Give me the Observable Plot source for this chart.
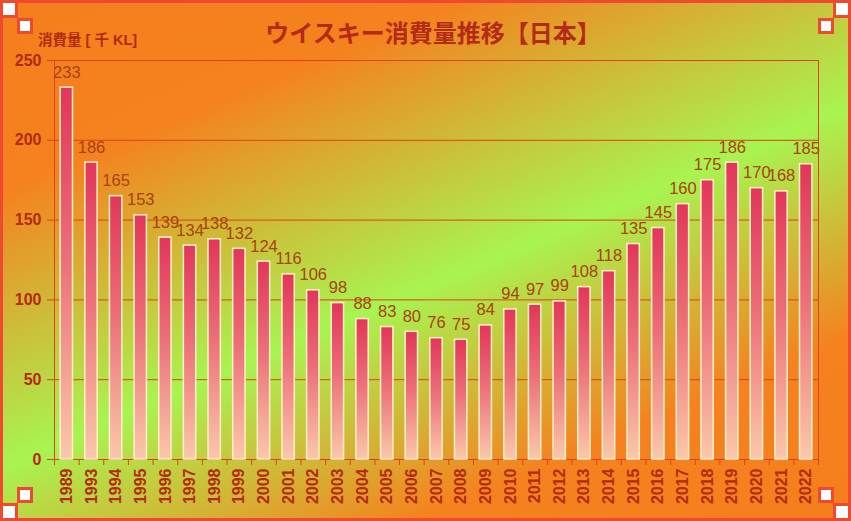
<!DOCTYPE html>
<html>
<head>
<meta charset="utf-8">
<script src="https://cdn.jsdelivr.net/npm/d3@7"></script>
<script src="https://cdn.jsdelivr.net/npm/@observablehq/plot@0.6"></script>
<style>
  html, body { margin: 0; padding: 0; }
  #page {
    position: relative; width: 851px; height: 521px; overflow: hidden;
    background: linear-gradient(157deg, #f57e1c 0%, #f5821e 22%, #a8f450 53%, #f5821e 79%, #f57e1c 100%);
    font-family: "Liberation Sans", Arial, sans-serif;
  }
  #chart { position: absolute; left: 0; top: 0; }
  #border { position: absolute; left: 0; top: 0; width: 851px; height: 521px; box-sizing: border-box; border: 3px solid #ef4a30; }
  #title {
    position: absolute; left: 433px; top: 20px; transform: translateX(-50%); white-space: nowrap;
    font: bold 24px/24px "Noto Sans CJK JP", sans-serif; color: #b42a16;
  }
  #ylabel {
    position: absolute; left: 38px; top: 33px; white-space: nowrap;
    font: bold 14.5px/14px "Liberation Sans", "Noto Sans CJK JP", sans-serif; color: #b02c10;
  }
  .sq { position: absolute; background: #fff; border: 3px solid #ef4a30; box-sizing: border-box; }
</style>
</head>
<body>
<div id="page">
  <div id="chart"></div>
  <div id="title">ウイスキー消費量推移【日本】</div>
  <div id="ylabel">消費量 [ 千 KL]</div>
  <div id="border"></div>
  <div class="sq" style="left:0;top:0;width:18px;height:18px"></div>
  <div class="sq" style="left:17px;top:18px;width:16px;height:16px"></div>
  <div class="sq" style="right:0;top:0;width:18px;height:18px"></div>
  <div class="sq" style="right:17px;top:18px;width:16px;height:16px"></div>
  <div class="sq" style="left:0;bottom:0;width:18px;height:18px"></div>
  <div class="sq" style="left:17px;bottom:18px;width:16px;height:16px"></div>
  <div class="sq" style="right:0;bottom:0;width:18px;height:18px"></div>
  <div class="sq" style="right:17px;bottom:18px;width:16px;height:16px"></div>
</div>
<script>
const years = ["1989","1993","1994","1995","1996","1997","1998","1999","2000","2001","2002","2003","2004","2005","2006","2007","2008","2009","2010","2011","2012","2013","2014","2015","2016","2017","2018","2019","2020","2021","2022"];
const values = [233,186,165,153,139,134,138,132,124,116,106,98,88,83,80,76,75,84,94,97,99,108,118,135,145,160,175,186,170,168,185];
const yTicks = [0,50,100,150,200,250];

const data = years.map((year, i) => ({year, value: values[i]}));

const W = 851, H = 521, ML = 54, MR = 33, MT = 60, MB = 62;
const step = (W - ML - MR) / years.length;
const gridColor = "#d9441a";
const axisColor = "#b22a0e";
const valueColor = "#a8420f";

const defs = () => {
  const d = d3.create("svg:defs");
  const g = d.append("linearGradient").attr("id", "barGrad")
    .attr("x1", 0).attr("y1", 0).attr("x2", 0).attr("y2", 1);
  g.append("stop").attr("offset", "0%").attr("stop-color", "#e2365a");
  g.append("stop").attr("offset", "45%").attr("stop-color", "#ec6e78");
  g.append("stop").attr("offset", "100%").attr("stop-color", "#fac8aa");
  return d.node();
};

const chart = Plot.plot({
  width: W, height: H,
  marginLeft: ML, marginRight: MR, marginTop: MT, marginBottom: MB,
  style: {background: "transparent", overflow: "visible", fontFamily: "Liberation Sans, Arial, sans-serif"},
  x: {type: "band", domain: years, paddingInner: 0.5, paddingOuter: 0.25, round: false, label: null},
  y: {domain: [0, 250], label: null},
  marks: [
    defs,
    Plot.ruleY(yTicks, {stroke: gridColor, strokeWidth: 1, insetLeft: -7}),
    Plot.frame({stroke: gridColor, strokeWidth: 1}),
    Plot.barY(data, {x: "year", y: "value", fill: "url(#barGrad)", stroke: "#fff0c8", strokeWidth: 1.5}),
    Plot.ruleX(years, {x: d => d, y1: 0, y2: 0, insetBottom: -6, dx: -step / 2, stroke: gridColor}),
    Plot.ruleX([years[years.length - 1]], {x: d => d, y1: 0, y2: 0, insetBottom: -6, dx: step / 2, stroke: gridColor}),
    Plot.axisY({ticks: yTicks, tickSize: 0, tickPadding: 13, fontSize: 16, fontWeight: "bold", color: axisColor, label: null}),
    Plot.axisX({tickSize: 0, tickPadding: 9, tickRotate: -90, fontSize: 16, fontWeight: "bold", color: axisColor, label: null}),
    Plot.text(data, {x: "year", y: "value", text: d => String(d.value), dy: -10, lineAnchor: "bottom", fill: valueColor, fontSize: 16.5})
  ]
});
document.getElementById("chart").appendChild(chart);
</script>
</body>
</html>
